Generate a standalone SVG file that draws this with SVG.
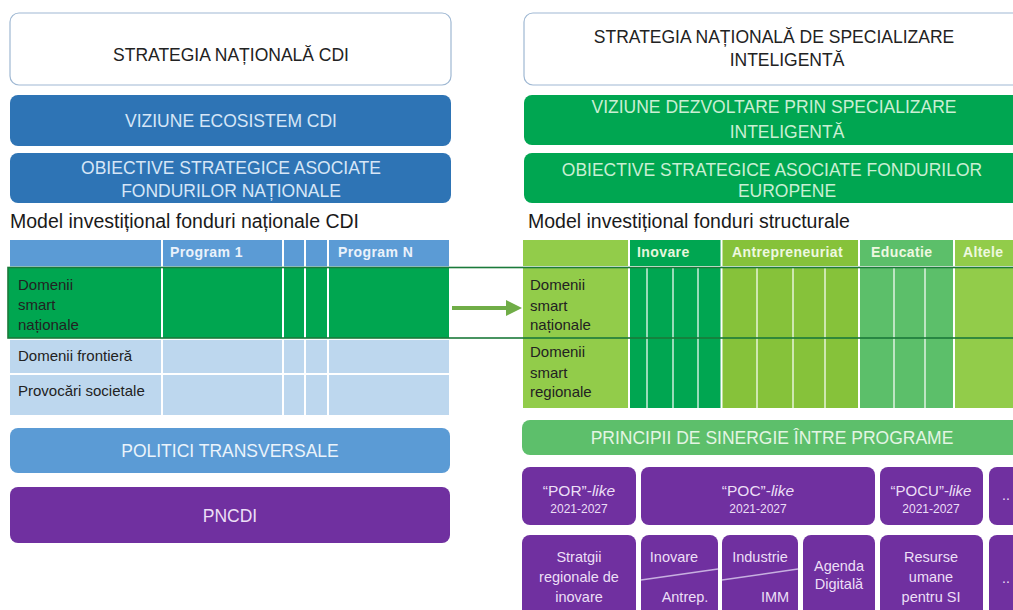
<svg xmlns="http://www.w3.org/2000/svg" width="1013" height="610" viewBox="0 0 1013 610">
<style>
text{font-family:"Liberation Sans",Arial,sans-serif}
.ttl{font-size:17.5px;fill:#222;text-anchor:middle}
.wb{font-size:17.5px;text-anchor:middle}
.blue{fill:#2e74b5}
.blt{fill:#d6e6f7}
.grn{fill:#00a651}
.grt{fill:#c9efd3}
.pur{fill:#7030a0}
.put{fill:#ecdff6;text-anchor:middle}
.lbl{font-size:15px;fill:#222}
.hdr{font-size:14px;font-weight:bold;letter-spacing:0.4px}
.model{font-size:19.5px;fill:#1a1a1a}
.wl{stroke:#fff;stroke-width:2}
.wl1{stroke:#fff;stroke-width:1.5;stroke-opacity:0.8}
.dg{stroke:#c7b0e0;stroke-width:1.5}
</style>
<rect width="1013" height="610" fill="#fff"/>

<!-- LEFT COLUMN -->
<g id="strategia-cdi">
<rect x="10" y="13" width="441" height="72" rx="9" fill="#fff" stroke="#9fb8d3" stroke-width="1.2"/>
<text class="ttl" x="231" y="61">STRATEGIA NAȚIONALĂ CDI</text>
</g>
<g id="viziune-cdi">
<rect class="blue" x="10" y="95" width="441" height="51" rx="8"/>
<text class="wb blt" x="231" y="127">VIZIUNE ECOSISTEM CDI</text>
</g>
<g id="obiective-nationale">
<rect class="blue" x="10" y="153" width="441" height="50" rx="8"/>
<text class="wb blt" x="231" y="174">OBIECTIVE STRATEGICE ASOCIATE</text>
<text class="wb blt" x="231" y="197">FONDURILOR NAȚIONALE</text>
</g>
<g id="model-national">
<text class="model" x="10" y="228">Model investițional fonduri naționale CDI</text>
</g>
<g id="tabel-national">
<rect x="10" y="240" width="439" height="26" fill="#5b9bd5"/>
<rect x="10" y="266" width="439" height="149" fill="#bdd7ee"/>
<rect x="8" y="267" width="441" height="71" fill="#00a650"/>
<line class="wl" x1="10" y1="374" x2="449" y2="374"/>
<line class="wl" x1="10" y1="339" x2="449" y2="339"/>
<line class="wl" x1="162" y1="240" x2="162" y2="415"/>
<line class="wl" x1="283" y1="240" x2="283" y2="415"/>
<line class="wl" x1="305" y1="240" x2="305" y2="415"/>
<line class="wl" x1="328" y1="240" x2="328" y2="415"/>
<text class="hdr" x="170" y="257" fill="#eaf2fb">Program 1</text>
<text class="hdr" x="338" y="257" fill="#eaf2fb">Program N</text>
<text class="lbl" x="18" y="290">Domenii</text>
<text class="lbl" x="18" y="310">smart</text>
<text class="lbl" x="18" y="330">naționale</text>
<text class="lbl" x="18" y="361">Domenii frontieră</text>
<text class="lbl" x="18" y="396">Provocări societale</text>
</g>
<g id="politici">
<rect x="10" y="428" width="440" height="45" rx="8" fill="#5b9bd5"/>
<text class="wb" x="230" y="457" fill="#eaf3fb">POLITICI TRANSVERSALE</text>
</g>
<g id="pncdi">
<rect class="pur" x="10" y="487" width="440" height="56" rx="8"/>
<text class="wb" x="230" y="522" fill="#ecdff6">PNCDI</text>
</g>

<!-- RIGHT COLUMN -->
<g id="strategia-si">
<rect x="524" y="13" width="510" height="72" rx="9" fill="#fff" stroke="#9fb8d3" stroke-width="1.2"/>
<text class="ttl" x="774" y="43">STRATEGIA NAȚIONALĂ DE SPECIALIZARE</text>
<text class="ttl" x="787" y="66">INTELIGENTĂ</text>
</g>
<g id="viziune-si">
<rect class="grn" x="524" y="95" width="510" height="50" rx="8"/>
<text class="wb grt" x="774" y="113">VIZIUNE DEZVOLTARE PRIN SPECIALIZARE</text>
<text class="wb grt" x="787" y="138">INTELIGENTĂ</text>
</g>
<g id="obiective-europene">
<rect class="grn" x="524" y="153" width="510" height="50" rx="8"/>
<text class="wb grt" x="772" y="176">OBIECTIVE STRATEGICE ASOCIATE FONDURILOR</text>
<text class="wb grt" x="787" y="197">EUROPENE</text>
</g>
<g id="model-structural">
<text class="model" x="528" y="228">Model investițional fonduri structurale</text>
</g>
<g id="tabel-structural">
<rect x="523" y="240" width="106" height="168" fill="#92cc4a"/>
<rect x="629" y="240" width="92" height="168" fill="#00a651"/>
<rect x="722" y="240" width="136" height="168" fill="#86c23a"/>
<rect x="860" y="240" width="93" height="168" fill="#5cbf6a"/>
<rect x="955" y="240" width="70" height="168" fill="#92cc4a"/>
<line class="wl" x1="523" y1="267" x2="1013" y2="267"/>
<line class="wl" x1="629" y1="240" x2="629" y2="408"/>
<line class="wl" x1="721.5" y1="240" x2="721.5" y2="408"/>
<line class="wl" x1="859" y1="240" x2="859" y2="408"/>
<line class="wl" x1="954" y1="240" x2="954" y2="408"/>
<line class="wl1" x1="647" y1="268" x2="647" y2="408"/>
<line class="wl1" x1="673" y1="268" x2="673" y2="408"/>
<line class="wl1" x1="698" y1="268" x2="698" y2="408"/>
<line class="wl1" x1="757" y1="268" x2="757" y2="408"/>
<line class="wl1" x1="793" y1="268" x2="793" y2="408"/>
<line class="wl1" x1="825" y1="268" x2="825" y2="408"/>
<line class="wl1" x1="894" y1="268" x2="894" y2="408"/>
<line class="wl1" x1="925" y1="268" x2="925" y2="408"/>
<text class="hdr" x="637" y="257" fill="#e6f6dc">Inovare</text>
<text class="hdr" x="732" y="257" fill="#eef8e0">Antrepreneuriat</text>
<text class="hdr" x="871" y="257" fill="#eef8e0">Educatie</text>
<text class="hdr" x="963" y="257" fill="#eef8e0">Altele</text>
<text class="lbl" x="530" y="290" fill="#333">Domenii</text>
<text class="lbl" x="530" y="311" fill="#333">smart</text>
<text class="lbl" x="530" y="330" fill="#333">naționale</text>
<text class="lbl" x="530" y="357" fill="#333">Domenii</text>
<text class="lbl" x="530" y="378" fill="#333">smart</text>
<text class="lbl" x="530" y="397" fill="#333">regionale</text>
</g>
<g id="banda-smart">
<rect x="8" y="267.5" width="1030" height="70.5" fill="none" stroke="#1b7a3a" stroke-width="1.6"/>
</g>
<g id="principii">
<rect x="522" y="420" width="510" height="35" rx="8" fill="#5dbf6b"/>
<text class="wb" x="772" y="444" fill="#e3f5e3">PRINCIPII DE SINERGIE ÎNTRE PROGRAME</text>
</g>
<g id="por">
<rect class="pur" x="522" y="467" width="114" height="58" rx="8"/>
<text class="put" x="579" y="496" font-size="15.5">“POR”-<tspan font-style="italic">like</tspan></text>
<text class="put" x="579" y="513" font-size="12">2021-2027</text>
</g>
<g id="poc">
<rect class="pur" x="641" y="467" width="234" height="58" rx="8"/>
<text class="put" x="758" y="496" font-size="15.5">“POC”-<tspan font-style="italic">like</tspan></text>
<text class="put" x="758" y="513" font-size="12">2021-2027</text>
</g>
<g id="pocu">
<rect class="pur" x="880" y="467" width="103" height="58" rx="8"/>
<text class="put" x="931" y="496" font-size="15">“POCU”-<tspan font-style="italic">like</tspan></text>
<text class="put" x="931" y="513" font-size="12">2021-2027</text>
</g>
<g id="altele-sus">
<rect class="pur" x="989" y="467" width="50" height="58" rx="8"/>
<text class="put" x="1006" y="500" font-size="14">..</text>
</g>
<g id="strategii-regionale">
<rect class="pur" x="522" y="535" width="114" height="85" rx="8"/>
<text class="put" x="579" y="562" font-size="14.5">Stratgii</text>
<text class="put" x="579" y="582" font-size="14.5">regionale de</text>
<text class="put" x="579" y="602" font-size="14.5">inovare</text>
</g>
<g id="inovare-antrep">
<rect class="pur" x="641" y="535" width="77" height="85" rx="8"/>
<line class="dg" x1="641" y1="580" x2="718" y2="569"/>
<text class="put" x="674" y="562" font-size="14.5">Inovare</text>
<text class="put" x="685" y="602" font-size="14.5">Antrep.</text>
</g>
<g id="industrie-imm">
<rect class="pur" x="722" y="535" width="76" height="85" rx="8"/>
<line class="dg" x1="722" y1="580" x2="798" y2="569"/>
<text class="put" x="760" y="562" font-size="14.5">Industrie</text>
<text class="put" x="775" y="602" font-size="14.5">IMM</text>
</g>
<g id="agenda-digitala">
<rect class="pur" x="803" y="535" width="72" height="85" rx="8"/>
<text class="put" x="839" y="571" font-size="14.5">Agenda</text>
<text class="put" x="839" y="589" font-size="14.5">Digitală</text>
</g>
<g id="resurse-umane">
<rect class="pur" x="880" y="535" width="103" height="85" rx="8"/>
<text class="put" x="931" y="562" font-size="14.5">Resurse</text>
<text class="put" x="931" y="582" font-size="14.5">umane</text>
<text class="put" x="931" y="602" font-size="14.5">pentru SI</text>
</g>
<g id="altele-jos">
<rect class="pur" x="989" y="535" width="50" height="85" rx="8"/>
<text class="put" x="1006" y="583" font-size="14">..</text>
</g>

<g id="connectors">
<line x1="452" y1="308" x2="508" y2="308" stroke="#70ad47" stroke-width="4"/>
<polygon points="506,300 522,308 506,316" fill="#70ad47"/>
</g>
</svg>
